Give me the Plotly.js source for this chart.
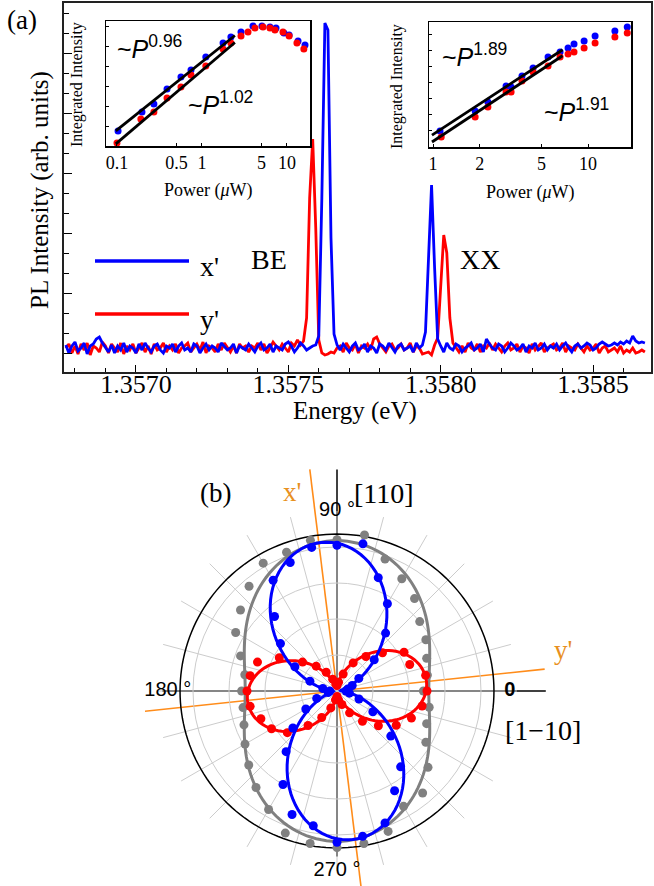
<!DOCTYPE html>
<html><head><meta charset="utf-8">
<script src="https://cdn.plot.ly/plotly-3.0.1.min.js"></script>
<style>html,body{margin:0;padding:0;background:#fff}</style>
</head><body><div id="chart" style="width:654px;height:886px"></div>
<script>
// ---------- Panel (a): PL spectra ----------
const energyStart = 1.35677, energyStep = 1e-5;
const plX = [3,-5,2,6,-3,0,5,-6,2,4, 9,11,5,0,-4,3,-5,2,-2,5, -4,2,0,-5,4,-2,5,0,-4,2, 4,-2,-5,2,0,4,-4,2,5,-2,
 0,-4,4,2,-5,0,4,-2,2,0, -4,5,2,-2,0,4,-5,2,0,-2, 4,0,-4,2,5,-2,0,4,-4,2, 0,-2,4,6,2,-4,0,5,2,-2,
 0,2,3,12,150,325,318,110,14,3, -2,4,0,-4,2,5,-2,0,4,-4, 2,0,-5,4,2,-2,5,0,-4,2, 4,-2,0,2,-4,5,0,3,16,90,
 163,80,9,2,-4,5,0,-2,4,2, -4,0,2,5,-2,0,4,-4,9,4, 0,-2,4,2,-4,0,5,2,-2,0, 4,-4,2,0,5,-2,0,4,-2,2,
 0,4,-2,2,5,0,-4,2,4,0, 2,5,3,-2,0,4,6,4,2,3, 5,3,6,4,7,5,12,7,5,6, 5];
const plY = [0,4,-5,2,-6,4,-2,5,-7,2, 0,-4,6,2,-5,4,0,-4,5,-6, 2,-2,4,-5,0,5,-4,2,-6,4, -2,0,5,-4,2,-2,4,-5,0,2,
 5,-4,0,4,-2,6,-5,2,0,-4, 4,-2,5,0,-4,2,-5,4,0,2, -4,2,0,5,-2,4,-5,0,6,2, -2,4,0,-4,5,2,8,3,7,30,
 150,209,120,8,-5,-7,-6,-4,-5,0, 2,-4,5,0,-2,4,-5,2,0,4, -2,9,11,4,0,-4,2,4,-2,0, 4,-2,0,5,-4,2,0,-6,-5,-4,
 -7,3,10,60,113,95,30,5,0,-4, 2,-4,5,0,-2,4,-4,2,0,5, -2,4,0,-4,2,5,-2,0,4,-4, 2,0,-5,4,-2,2,5,-4,0,2,
 4,-2,0,5,-4,2,0,-2,4,0, -4,2,-2,0,4,-5,0,2,-4,-2, 0,-4,2,-5,-2,-4,0,-5,-4,-2, -4];

// ---------- Inset 1 (BE) ----------
const in1PowerBlue = [0.103,0.197,0.272,0.388,0.566,0.743,1.11,1.77,2.19,2.88,3.98,5.08,6.31,7.43,9.22,10.6,13.5,16.3];
const in1IntBlue   = [1.63,3.01,3.91,6.35,9.38,11.8,17.9,28.2,34.3,40.3,49.0,49.0,47.4,45.9,39.1,36.6,30.1,26.5];
const in1PowerRed  = [0.100,0.191,0.272,0.388,0.566,0.743,1.11,1.77,2.19,2.88,3.48,4.20,5.22,6.31,7.22,8.97,10.6,13.1,15.8];
const in1IntRed    = [1.10,2.40,3.01,4.74,6.78,10.0,13.4,23.2,28.2,35.4,40.3,45.9,47.4,45.9,43.0,40.3,35.4,28.2,23.2];
const in1FitPower = [0.097, 2.44];
const in1FitStart = [1.63, 1.07];      // blue, red
const in1FitExp = [0.96, 1.02];
const in1Ticks = [0.1, 0.5, 1, 5, 10];
const in1TickText = ['0.1','0.5','1','5','10'];

// ---------- Inset 2 (XX) ----------
const in2PowerBlue = [1.11,1.87,2.26,2.96,3.19,3.75,4.42,5.52,6.60,7.43,8.12,9.43,11.1,14.9,17.9];
const in2IntBlue   = [1.99,4.70,6.91,13.7,13.2,21.1,29.8,47.8,59.2,70.3,83.5,95.0,118,146,173];
const in2PowerRed  = [1.13,1.87,2.26,2.96,3.19,3.75,4.42,5.52,6.60,7.43,8.12,9.43,11.1,14.9,17.9];
const in2IntRed    = [1.54,3.63,5.57,10.6,10.6,17.0,25.1,32.5,47.8,54.3,59.2,70.3,87.1,113,134];
const in2FitPower = [0.985, 6.85];
const in2FitStart = [1.67, 1.24];
const in2FitExp = [1.89, 1.91];
const in2Ticks = [1, 2, 5, 10];
const in2TickText = ['1','2','5','10'];

// ---------- Panel (b): polarization ----------
const polAngle = [0,10,20,30,40,50,60,70,80,90,100,110,120,130,140,150,160,170,180,190,200,210,220,230,240,250,260,270,280,290,300,310,320,330,340,350];
const polTotal = [0.48,0.51,0.53,0.57,0.60,0.67,0.72,0.78,0.88,0.84,0.85,0.82,0.82,0.76,0.70,0.65,0.57,0.52,0.53,0.53,0.55,0.59,0.64,0.70,0.76,0.84,0.86,0.87,0.86,0.83,0.74,0.74,0.66,0.57,0.53,0.52];
const polX    = [0.05,0.06,0.09,0.14,0.27,0.42,0.56,0.67,0.83,0.81,0.81,0.76,0.71,0.54,0.41,0.27,0.16,0.08,0.04,0.05,0.12,0.20,0.32,0.44,0.60,0.73,0.76,0.84,0.82,0.78,0.64,0.55,0.39,0.23,0.13,0.07];
const polY    = [0.50,0.50,0.43,0.43,0.33,0.25,0.18,0.10,0.05,0.03,0.04,0.07,0.12,0.18,0.25,0.37,0.47,0.49,0.50,0.49,0.45,0.42,0.36,0.25,0.17,0.10,0.05,0.03,0.05,0.08,0.14,0.22,0.30,0.38,0.44,0.48];
// fit parameters
const fitTotal = [0.51, 0.835];        // r = a cos^2 + b sin^2
const fitX = [0.02, 0.81, 96];         // offset, amplitude, axis angle
const fitY = [0.02, 0.48, 6];
const outerCircleR = 0.872;
const angleLabels = ['<b>0</b>','<b>45 °</b>','90 °','<b>135 °</b>','180 °','<b>225 °</b>','270 °','<b>315 °</b>'];
const angleLabelTheta = [0,45,90,136,180,223,270,316];
const angleLabelR = [0.96,1.03,1.0,1.07,0.94,1.06,1.0,1.04];
const guideAngles = [97, 6];           // x', y' directions
const guideLen = [[1.24,1.3],[1.16,1.1]];
const axisLen = [[1.16,0.97],[1.23,0.92]]; // [0°,180°], [90°,270°]

// ---------- helpers ----------
const W = 654, H = 886;
const fx = v => v / W, fy = v => 1 - v / H;
const SERIF = "'Liberation Serif', 'Times New Roman', Times, serif";
const SANS = "'Liberation Sans', Arial, Helvetica, sans-serif";
const BLUE = '#0000ff', RED = '#ff0000', GRAY = '#808080', ORANGE = '#ff8c1a';
const energy = plX.map((_, i) => +(energyStart + i * energyStep).toFixed(6));
const rad = d => d * Math.PI / 180;

const traces = [];
traces.push({x: energy, y: plY, type: 'scatter', mode: 'lines', line: {color: RED, width: 2.8}, xaxis: 'x', yaxis: 'y'});
traces.push({x: energy, y: plX, type: 'scatter', mode: 'lines', line: {color: BLUE, width: 2.8}, xaxis: 'x', yaxis: 'y'});

function fitLine(P, i0, k) { return P.map(p => i0 * Math.pow(p / P[0], k)); }
traces.push({x: in1PowerBlue, y: in1IntBlue, mode: 'markers', marker: {color: BLUE, size: 7}, xaxis: 'x2', yaxis: 'y2'});
traces.push({x: in1PowerRed, y: in1IntRed, mode: 'markers', marker: {color: RED, size: 7}, xaxis: 'x2', yaxis: 'y2'});
for (let s = 0; s < 2; s++) traces.push({x: in1FitPower, y: fitLine(in1FitPower, in1FitStart[s], in1FitExp[s]), mode: 'lines', line: {color: '#000', width: 2.8}, xaxis: 'x2', yaxis: 'y2'});
traces.push({x: in2PowerBlue, y: in2IntBlue, mode: 'markers', marker: {color: BLUE, size: 7}, xaxis: 'x3', yaxis: 'y3'});
traces.push({x: in2PowerRed, y: in2IntRed, mode: 'markers', marker: {color: RED, size: 7}, xaxis: 'x3', yaxis: 'y3'});
for (let s = 0; s < 2; s++) traces.push({x: in2FitPower, y: fitLine(in2FitPower, in2FitStart[s], in2FitExp[s]), mode: 'lines', line: {color: '#000', width: 2.8}, xaxis: 'x3', yaxis: 'y3'});

function seg(angle, r1, r2) {
  return {x: [r1 * Math.cos(rad(angle)), -r2 * Math.cos(rad(angle))], y: [r1 * Math.sin(rad(angle)), -r2 * Math.sin(rad(angle))]};
}
const ax0 = seg(0, axisLen[0][0], axisLen[0][1]);
const ax90 = seg(90, axisLen[1][0], axisLen[1][1]);
traces.push({x: ax0.x, y: ax0.y, mode: 'lines', line: {color: '#000', width: 1.5}, xaxis: 'x4', yaxis: 'y4'});
traces.push({x: ax90.x, y: ax90.y, mode: 'lines', line: {color: '#000', width: 1.5}, xaxis: 'x4', yaxis: 'y4'});
for (let g = 0; g < 2; g++) {
  const s = seg(guideAngles[g], guideLen[g][0], guideLen[g][1]);
  traces.push({x: s.x, y: s.y, mode: 'lines', line: {color: ORANGE, width: 1.6}, xaxis: 'x4', yaxis: 'y4'});
}

const thetaFine = [];
for (let t = 0; t <= 360; t += 2) thetaFine.push(t);
traces.push({type: 'scatterpolar', r: thetaFine.map(() => outerCircleR), theta: thetaFine, mode: 'lines', line: {color: '#000', width: 1.5}, subplot: 'polar'});
traces.push({type: 'scatterpolar', r: thetaFine.map(t => fitTotal[0] * Math.cos(rad(t)) ** 2 + fitTotal[1] * Math.sin(rad(t)) ** 2), theta: thetaFine, mode: 'lines', line: {color: GRAY, width: 3}, subplot: 'polar'});
traces.push({type: 'scatterpolar', r: polTotal, theta: polAngle, mode: 'markers', marker: {color: GRAY, size: 9}, subplot: 'polar'});
traces.push({type: 'scatterpolar', r: thetaFine.map(t => fitY[0] + fitY[1] * Math.cos(rad(t - fitY[2])) ** 2), theta: thetaFine, mode: 'lines', line: {color: RED, width: 3}, subplot: 'polar'});
traces.push({type: 'scatterpolar', r: polY, theta: polAngle, mode: 'markers', marker: {color: RED, size: 9}, subplot: 'polar'});
traces.push({type: 'scatterpolar', r: thetaFine.map(t => fitX[0] + fitX[1] * Math.cos(rad(t - fitX[2])) ** 2), theta: thetaFine, mode: 'lines', line: {color: BLUE, width: 3}, subplot: 'polar'});
traces.push({type: 'scatterpolar', r: polX, theta: polAngle, mode: 'markers', marker: {color: BLUE, size: 9}, subplot: 'polar'});
traces.push({type: 'scatterpolar', r: angleLabelR, theta: angleLabelTheta, mode: 'text', text: angleLabels, textposition: 'middle center', textfont: {family: SANS, size: 20, color: '#000'}, cliponaxis: false, subplot: 'polar'});

const insetAxis = {type: 'log', showline: true, mirror: true, linecolor: '#000', linewidth: 1.5, showgrid: false, zeroline: false, ticks: 'inside', ticklen: 3, tickcolor: '#000'};

const ann = (x, y, text, size, opts) => Object.assign({xref: 'paper', yref: 'paper', x: fx(x), y: fy(y), text: text, showarrow: false, font: {family: SERIF, size: size, color: '#000'}, xanchor: 'center', yanchor: 'middle'}, opts || {});
const sansFont = {family: SANS, size: 25, color: '#000'};

const layout = {
  width: W, height: H, margin: {l: 0, r: 0, t: 0, b: 0},
  paper_bgcolor: '#fff', plot_bgcolor: 'rgba(0,0,0,0)', showlegend: false,
  font: {family: SERIF, color: '#000'},
  xaxis: {domain: [fx(64), fx(651)], anchor: 'y', range: [1.356764, 1.35869], tickmode: 'linear', tick0: 1.357, dtick: 0.0005, tickformat: '.4f',
    ticks: 'inside', ticklen: 7, tickcolor: '#000', minor: {dtick: 0.0001, tick0: 1.357, ticks: 'inside', ticklen: 4, tickcolor: '#000'},
    showline: true, mirror: true, linecolor: '#222', linewidth: 2, showgrid: false, zeroline: false, tickfont: {family: SERIF, size: 26}, ticklabelstandoff: -12},
  yaxis: {domain: [fy(372), fy(3)], anchor: 'x', range: [-24, 345], tickmode: 'linear', tick0: -5, dtick: 60, ticks: 'inside', ticklen: 8, tickcolor: '#000',
    minor: {dtick: 20, tick0: -5, ticks: 'inside', ticklen: 5, tickcolor: '#000'}, showticklabels: false,
    showline: true, mirror: true, linecolor: '#222', linewidth: 2, showgrid: false, zeroline: false},
  xaxis2: Object.assign({}, insetAxis, {domain: [fx(106), fx(310)], anchor: 'y2', range: [-1.129, 1.271], tickvals: in1Ticks, ticktext: in1TickText, tickfont: {family: SERIF, size: 18}}),
  yaxis2: Object.assign({}, insetAxis, {domain: [fy(146), fy(21)], anchor: 'x2', range: [0, 1.761], tickmode: 'linear', tick0: 0, dtick: 0.28, showticklabels: false}),
  xaxis3: Object.assign({}, insetAxis, {domain: [fx(429), fx(631)], anchor: 'y3', range: [-0.0258, 1.277], tickvals: in2Ticks, ticktext: in2TickText, tickfont: {family: SERIF, size: 18}}),
  yaxis3: Object.assign({}, insetAxis, {domain: [fy(147), fy(22)], anchor: 'x3', range: [0, 2.332], tickmode: 'linear', tick0: 0, dtick: 0.3, showticklabels: false}),
  xaxis4: {domain: [fx(145), fx(553)], anchor: 'y4', range: [(145 - 337) / 180, (553 - 337) / 180], visible: false, fixedrange: true},
  yaxis4: {domain: [0, fy(466)], anchor: 'x4', range: [(691 - 886) / 180, (691 - 466) / 180], visible: false, fixedrange: true},
  polar: {domain: {x: [fx(157), fx(517)], y: [fy(871), fy(511)]}, bgcolor: 'rgba(0,0,0,0)',
    radialaxis: {range: [0, 1], tickvals: [0.2, 0.4, 0.6, 0.8], showticklabels: false, ticks: '', showline: false, gridcolor: '#cccccc', gridwidth: 1},
    angularaxis: {rotation: 0, direction: 'counterclockwise', tickmode: 'linear', dtick: 15, showticklabels: false, ticks: '', showline: false, gridcolor: '#cccccc', gridwidth: 1}},
  shapes: [
    {type: 'line', xref: 'paper', yref: 'paper', x0: fx(95), x1: fx(189), y0: fy(261), y1: fy(261), line: {color: BLUE, width: 3.5}},
    {type: 'line', xref: 'paper', yref: 'paper', x0: fx(95), x1: fx(189), y0: fy(314), y1: fy(314), line: {color: RED, width: 3.5}}
  ],
  annotations: [
    ann(22, 20, '(a)', 27),
    ann(40, 190, 'PL Intensity (arb. units)', 25, {textangle: -90}),
    ann(355, 411, 'Energy (eV)', 25),
    ann(198, 266, "x'", 28, {xanchor: 'left'}),
    ann(198, 319, "y'", 28, {xanchor: 'left'}),
    ann(269, 259, 'BE', 28),
    ann(480, 259, 'XX', 28),
    ann(208, 190, 'Power (<i>μ</i>W)', 18),
    ann(77, 85, 'Integrated Intensity', 16, {textangle: -90}),
    ann(530, 193, 'Power (<i>μ</i>W)', 18),
    ann(397, 87, 'Integrated Intensity', 16, {textangle: -90}),
    ann(115, 47, '~<i>P</i><sup>0.96</sup>', 25, {xanchor: 'left', font: sansFont}),
    ann(186, 103, '~<i>P</i><sup>1.02</sup>', 25, {xanchor: 'left', font: sansFont}),
    ann(440, 55, '~<i>P</i><sup>1.89</sup>', 25, {xanchor: 'left', font: sansFont}),
    ann(542, 110, '~<i>P</i><sup>1.91</sup>', 25, {xanchor: 'left', font: sansFont}),
    ann(215, 493, '(b)', 27),
    ann(292, 492, "x'", 27, {font: {family: SERIF, size: 27, color: '#e8901e'}}),
    ann(384, 493, '[110]', 28),
    ann(563, 650, "y'", 27, {font: {family: SERIF, size: 27, color: '#e8901e'}}),
    ann(543, 730, '[1−10]', 28)
  ]
};

Plotly.newPlot('chart', traces, layout, {staticPlot: true, displayModeBar: false});
</script>
</body></html>
